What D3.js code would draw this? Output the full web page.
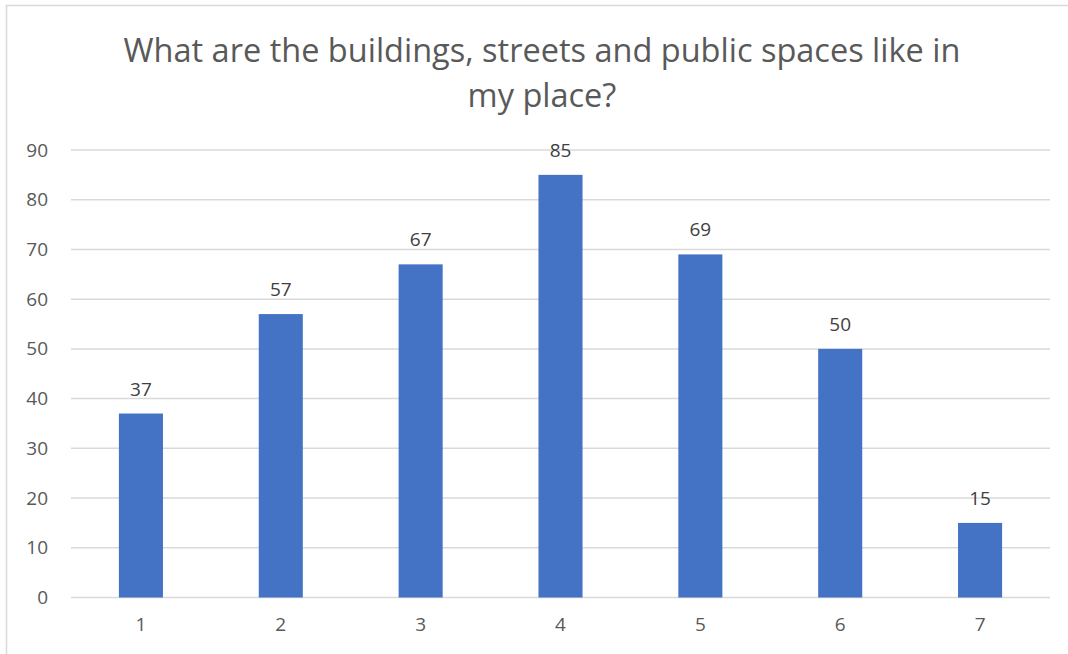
<!DOCTYPE html>
<html>

<head>
  <meta charset="utf-8">
  <title>Buildings, streets and public spaces</title>
  <script src="https://d3js.org/d3.v7.min.js"></script>
  <style>
    body { margin: 0; background: #fff; }
    svg { display: block; font-family: "Open Sans", sans-serif; }
  </style>
</head>

<body>
  <svg width="1068" height="654"></svg>
  <script>
    // data
    var categories = ["1", "2", "3", "4", "5", "6", "7"];
    var values = [37, 57, 67, 85, 69, 50, 15];
    var yTicks = [0, 10, 20, 30, 40, 50, 60, 70, 80, 90];
    var titleLines = ["What are the buildings, streets and public spaces like in", "my place?"];

    var svg = d3.select("svg");
    var textColor = "#595959";

    // chart frame (right and bottom edges fall outside the picture)
    svg.append("rect")
      .attr("x", 6.5).attr("y", 5.5)
      .attr("width", 1080).attr("height", 660)
      .attr("fill", "#fff")
      .attr("stroke", "#d9d9d9")
      .attr("stroke-width", 1.5);

    // title
    svg.append("text")
      .attr("x", 542)
      .attr("y", 62)
      .attr("text-anchor", "middle")
      .attr("fill", textColor)
      .attr("font-size", 32.5)
      .selectAll("tspan")
      .data(titleLines)
      .enter()
      .append("tspan")
      .attr("x", 542)
      .attr("dy", function (d, i) { return i === 0 ? 0 : 45; })
      .text(function (d) { return d; });

    var x = d3.scaleBand().domain(categories).range([71, 1050]).paddingInner(0.685).paddingOuter(0.3425);
    var y = d3.scaleLinear().domain([0, 90]).range([597.5, 150]);

    // gridlines
    svg.append("g")
      .selectAll("line")
      .data(yTicks)
      .enter()
      .append("line")
      .attr("x1", 71).attr("x2", 1050)
      .attr("y1", function (d) { return y(d); })
      .attr("y2", function (d) { return y(d); })
      .attr("stroke", "#d9d9d9")
      .attr("stroke-width", 1.5);

    // y axis labels
    var yAxis = svg.append("g")
      .attr("transform", "translate(48,0)")
      .call(d3.axisLeft(y).tickValues(yTicks).tickSize(0).tickPadding(0));
    yAxis.select(".domain").remove();
    yAxis.selectAll("text")
      .attr("fill", textColor)
      .attr("font-size", 19)
      .attr("font-family", "Open Sans, sans-serif");

    // x axis labels
    var xAxis = svg.append("g")
      .attr("transform", "translate(0,617)")
      .call(d3.axisBottom(x).tickSize(0).tickPadding(0));
    xAxis.select(".domain").remove();
    xAxis.selectAll("text")
      .attr("fill", textColor)
      .attr("font-size", 19)
      .attr("font-family", "Open Sans, sans-serif");

    // bars
    svg.append("g")
      .selectAll("rect")
      .data(values)
      .enter()
      .append("rect")
      .attr("x", function (d, i) { return x(categories[i]); })
      .attr("y", function (d) { return y(d); })
      .attr("width", x.bandwidth())
      .attr("height", function (d) { return y(0) - y(d); })
      .attr("fill", "#4472c4");

    // data labels
    svg.append("g")
      .selectAll("text")
      .data(values)
      .enter()
      .append("text")
      .attr("x", function (d, i) { return x(categories[i]) + x.bandwidth() / 2; })
      .attr("y", function (d) { return y(d) - 18; })
      .attr("text-anchor", "middle")
      .attr("fill", "#404040")
      .attr("font-size", 19)
      .text(function (d) { return d; });
  </script>
</body>

</html>
